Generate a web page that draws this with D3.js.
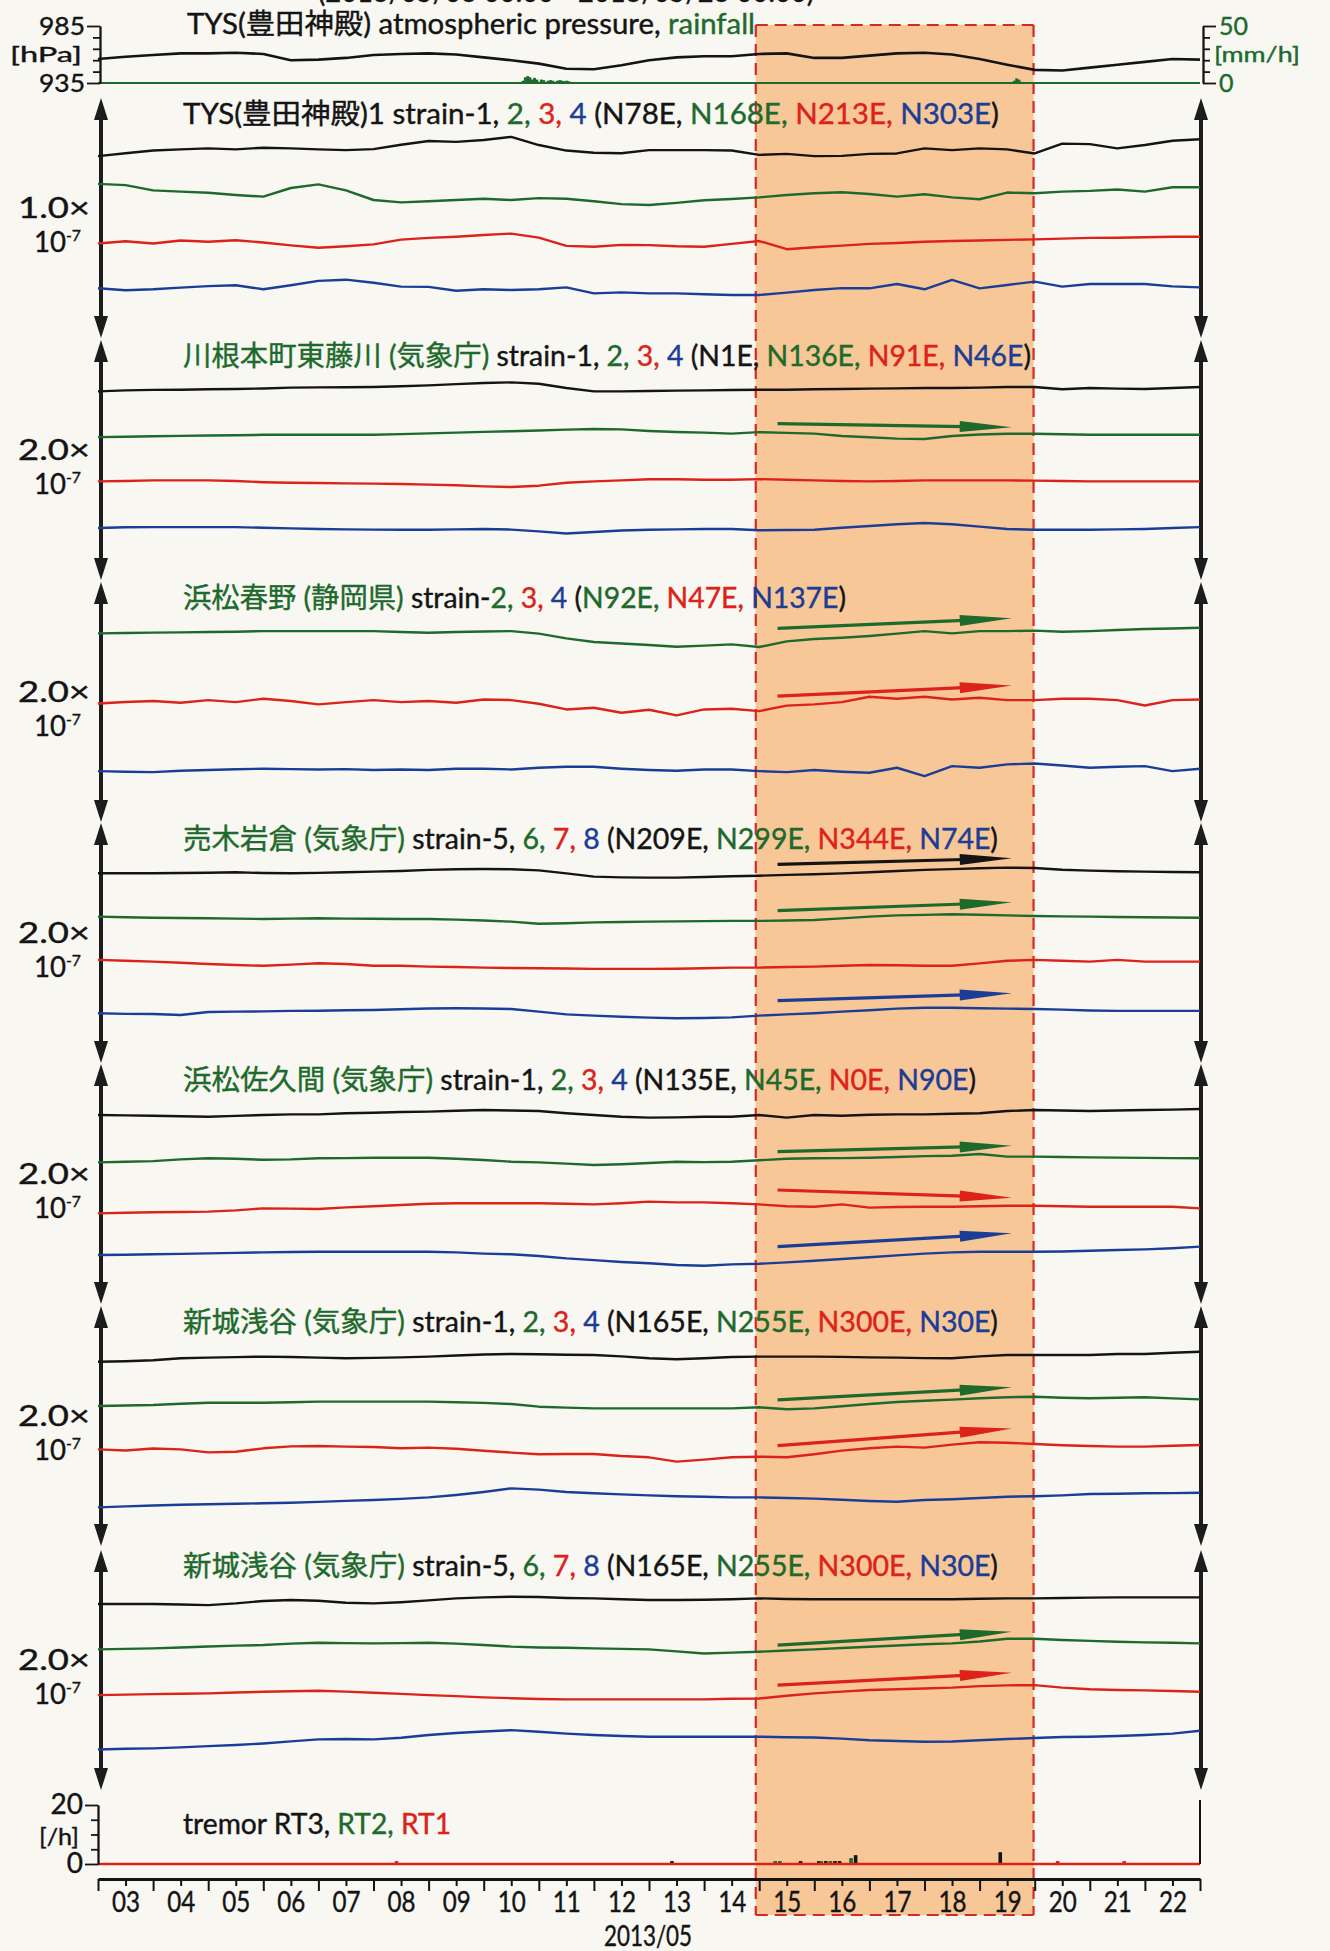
<!DOCTYPE html>
<html><head><meta charset="utf-8">
<script src="https://cdn.jsdelivr.net/npm/d3@7"></script>
<style>
html,body{margin:0;padding:0;background:#f8f7f2;}
svg{display:block;}
text{font-family:Lato,"Noto Sans CJK JP",sans-serif;white-space:pre;}
</style></head><body>
<svg id="chart" width="1330" height="1951"></svg>
<script>
// ---------------- DATA ----------------
const periodText = "(2013/05/03 00:00 - 2013/05/23 00:00)";
const dayLabels = ["03","04","05","06","07","08","09","10","11","12","13","14","15","16","17","18","19","20","21","22"];
const xAxisTitle = "2013/05";
const shadeStart = "2013-05-14T22:30:00Z", shadeEnd = "2013-05-19T23:30:00Z";

// atmospheric pressure [hPa], every 12 h from 05/03 00:00
const pressure = [956,958,959.5,961,961,961.5,960.5,955,955.5,957,959.5,960.5,961,960,957.5,955,952,947.5,947,950.5,955,957.5,958.5,958.5,960.5,961,957,957,959,961,961.5,960,956,951,946.5,946,948.5,951,953.5,956,955.5];
// rainfall [mm/h]: hour since 05/03 00:00, value
const rainHour = [185,186,187,188,189,190,191,192,193,194,195,196,197,198,199,200,201,202,203,204,205,206,399,400,401,402];
const rainMm   = [2,5,6,5,3,4.5,3,1,3,2.5,1,2,2.5,2,1,2,2.5,2,1.5,2,1.5,0.5,2,4,3,1];

// tremor counts [/h]
const rt3Hour = [250,306,314,317,321,323,330,393], rt3Count = [1,1,1,1,1,1,3,4];
const rt2Hour = [295,297,315,319,328],             rt2Count = [1,1,1,1,2];
const rt1Hour = [130,418,447],                     rt1Count = [1,1,1];

// strain traces (x1e-9, plotted with offsets), every 12 h
const tys_s1 = [75.8,77.0,78.1,78.6,79.0,78.6,79.3,79.0,78.6,78.3,78.7,80.5,82.1,81.7,82.5,83.8,80.4,78.1,77.2,77.0,78.3,78.3,78.3,78.1,76.3,76.7,75.8,75.9,76.7,76.9,79.0,78.3,79.0,78.6,76.9,81.0,80.8,79.0,80.4,82.2,82.8];
const tys_s2 = [64.2,63.7,61.5,61.0,60.5,59.6,58.9,62.5,64.0,61.5,57.5,56.5,57.0,57.5,58.0,57.5,58.3,58.0,57.0,55.8,55.4,56.3,57.4,57.9,58.6,59.6,60.3,60.7,60.0,58.9,59.9,58.6,57.8,60.6,60.3,61.0,61.3,61.9,61.0,62.8,62.8];
const tys_s3 = [39.4,40.3,39.4,40.6,40.1,40.7,39.8,38.6,37.6,38.2,39.0,41.0,41.7,42.2,42.9,43.5,41.8,38.4,38.0,38.8,38.7,38.2,38.0,39.2,40.4,37.0,37.8,38.5,39.2,39.6,40.1,40.4,40.6,40.9,41.1,41.4,41.7,41.8,42.0,42.2,42.2];
const tys_s4 = [20.7,19.9,20.3,21.0,21.6,22.0,20.3,22.0,23.8,24.3,23.0,21.4,21.3,19.7,20.3,20.0,20.3,21.1,18.6,19.0,18.6,18.6,18.2,17.9,17.9,18.9,20.0,20.8,20.7,22.5,20.3,24.2,20.7,22.1,23.5,21.4,22.5,22.5,22.5,21.5,21.1];

const kawane_s1 = [157.2,158.0,158.4,158.6,158.9,159.2,159.6,160.3,160.5,160.6,160.8,161.5,162.2,163.2,164.2,164.7,163.5,160.0,157.2,157.2,157.5,157.8,158.0,158.3,158.6,158.6,159.0,159.2,159.5,159.7,160.0,160.0,160.3,160.8,160.8,159.0,160.0,159.5,159.2,160.0,160.8];
const kawane_s2 = [119.1,119.4,119.8,120.1,120.4,120.6,121.0,121.1,121.1,121.1,121.1,121.6,122.2,122.8,123.4,124.0,124.6,125.3,125.8,125.5,124.2,123.3,122.8,122.0,123.2,122.6,122.0,120.0,119.0,117.8,117.5,120.0,121.2,121.9,121.9,121.5,121.1,121.1,121.1,121.1,121.1];
const kawane_s3 = [82.2,82.5,83.0,83.0,83.0,82.5,81.5,81.0,80.8,80.5,80.3,80.0,79.5,79.0,78.0,77.5,78.6,81.0,82.2,83.0,84.0,84.0,83.6,83.6,84.1,83.6,83.0,82.5,82.2,82.5,83.0,83.0,83.0,83.0,82.8,82.5,82.2,82.2,82.2,82.2,82.2];
const kawane_s4 = [43.3,44.0,44.1,44.1,44.1,44.1,43.5,43.0,42.5,42.2,42.0,41.9,41.9,42.2,42.5,42.0,40.5,38.8,40.0,41.2,41.9,42.2,42.5,42.5,41.4,41.7,41.9,43.5,45.0,46.5,47.5,46.5,44.5,42.5,41.9,41.9,41.9,42.2,42.5,43.3,44.1];

const haruno_s2 = [157.2,157.5,157.8,158.0,158.3,158.6,159.1,159.1,159.1,159.1,159.1,158.3,157.7,158.3,158.8,159.1,157.0,153.0,150.0,148.8,147.5,146.0,147.0,148.0,145.8,150.5,152.5,153.5,155.0,157.0,159.1,157.2,159.1,159.1,159.5,158.6,159.1,160.0,160.8,161.2,161.9];
const haruno_s3 = [98.8,100.0,100.8,99.4,101.6,99.9,102.7,100.8,98.0,99.9,101.6,99.9,100.8,99.4,102.1,101.6,98.5,93.8,95.2,91.0,93.5,88.8,93.8,94.4,92.4,97.0,98.0,99.9,104.4,102.7,104.4,102.1,103.5,101.6,101.6,102.7,102.7,101.6,97.1,101.6,102.1];
const haruno_s4 = [42.4,41.9,41.6,42.7,43.3,44.0,44.4,44.1,43.8,44.1,43.3,43.8,43.3,44.4,44.4,43.8,45.2,46.0,46.0,44.4,43.3,42.7,43.8,43.8,42.4,41.6,43.3,41.9,41.0,45.2,38.3,46.6,45.2,48.0,48.8,47.1,45.2,46.0,46.6,42.4,44.4];

const urugi_s5 = [158.1,158.1,158.1,158.3,158.6,158.9,158.3,158.1,158.4,158.9,159.5,160.0,160.9,161.4,161.7,161.5,160.5,158.0,155.3,154.7,154.5,154.5,155.0,155.6,156.1,156.8,157.3,158.0,158.9,160.0,160.9,161.6,162.3,162.8,162.5,161.0,160.3,159.8,159.5,159.2,158.9];
const urugi_s6 = [122.0,121.5,121.1,120.8,120.6,120.3,120.0,120.3,120.6,120.3,120.2,120.0,120.0,119.5,118.8,117.8,116.0,116.5,117.2,117.5,117.8,118.0,118.2,118.4,118.4,118.8,119.2,120.5,122.0,123.0,123.4,123.9,123.5,123.0,122.5,122.2,122.0,121.7,121.5,121.3,121.1];
const urugi_s7 = [85.9,85.2,84.5,83.5,82.5,81.7,81.0,82.0,83.1,82.5,81.1,81.0,80.3,80.0,79.5,79.2,79.0,78.7,78.4,78.4,78.4,78.5,79.0,79.5,79.5,80.0,80.3,81.0,81.7,81.4,81.1,81.1,83.0,85.2,85.9,85.2,84.5,85.9,84.5,84.5,84.5];
const urugi_s8 = [41.4,40.9,40.8,40.0,42.5,42.8,43.0,43.4,43.6,44.0,44.2,44.8,45.4,45.6,45.4,45.0,42.8,40.5,39.5,38.5,37.8,37.3,37.5,38.0,39.5,40.5,41.5,42.8,44.0,45.3,46.0,46.1,45.6,45.3,45.0,44.5,43.8,43.4,43.4,43.4,43.4];

const sakuma_s1 = [157.5,157.2,156.9,156.5,156.1,156.8,157.5,158.0,158.0,158.9,159.4,160.0,160.3,161.0,161.7,161.2,160.8,159.0,157.5,156.1,155.3,155.5,156.1,156.1,157.5,155.3,157.5,156.9,157.7,158.0,158.0,158.5,158.9,160.8,161.7,161.2,160.8,161.2,161.7,162.0,162.5];
const sakuma_s2 = [118.0,118.5,119.1,120.5,121.4,121.0,120.2,120.5,121.4,121.6,121.9,121.9,121.9,121.0,120.0,118.6,118.0,117.0,115.8,116.5,117.5,118.6,118.2,118.6,119.8,121.0,121.4,121.6,121.9,122.5,123.2,123.6,125.0,122.8,122.8,122.5,122.2,122.0,121.8,121.6,121.4];
const sakuma_s3 = [75.5,76.0,76.4,76.7,77.0,78.0,79.7,79.5,79.2,80.5,81.5,82.5,83.5,83.9,83.9,83.9,83.9,83.5,83.0,84.0,85.3,84.7,84.7,83.9,83.0,81.5,81.1,83.0,80.3,80.8,81.1,81.1,81.5,81.9,81.9,81.5,81.1,81.1,81.1,81.1,79.7];
const sakuma_s4 = [40.8,41.1,41.4,41.8,42.2,42.6,43.0,43.3,43.6,43.6,43.6,43.6,43.6,43.0,42.0,41.4,40.0,38.0,36.6,35.0,33.9,32.5,31.9,33.0,33.5,34.7,36.0,37.5,39.0,40.5,42.0,43.0,43.6,43.6,43.6,43.8,44.4,45.0,45.5,46.5,47.8];

const shinshiro_s1 = [153.6,154.0,154.8,156.4,157.0,157.4,157.8,157.5,157.0,156.4,156.8,157.2,157.8,158.8,159.6,160.0,159.8,159.4,159.2,158.0,156.4,155.6,156.5,157.5,157.8,157.8,157.8,157.6,157.2,157.0,156.6,156.4,158.0,159.2,159.2,159.2,159.2,160.0,160.0,161.0,161.9];
const shinshiro_s2 = [116.7,117.1,117.5,118.5,119.4,119.4,119.4,119.8,120.3,120.3,120.3,120.3,120.3,119.8,119.3,118.3,116.1,115.3,114.7,114.7,114.7,114.7,114.7,114.7,115.6,113.9,114.7,116.5,118.3,120.0,121.1,122.0,123.1,124.0,124.4,123.5,123.1,123.5,123.9,123.0,122.2];
const shinshiro_s3 = [80.5,79.6,81.2,80.5,78.0,78.5,81.4,83.0,83.3,82.8,82.5,81.4,82.0,81.0,79.4,77.8,76.5,76.7,76.7,75.0,73.9,70.3,72.0,74.0,74.4,74.0,76.5,79.5,81.4,82.8,82.0,84.5,86.5,86.1,85.0,84.0,83.3,82.8,82.8,83.5,84.2];
const shinshiro_s4 = [32.2,33.0,33.8,34.4,34.8,35.2,35.6,36.1,36.8,37.6,38.3,39.3,40.5,42.5,45.0,48.0,47.0,45.0,43.9,43.0,42.2,41.5,41.0,40.5,40.5,40.0,39.5,38.5,37.5,36.9,38.3,38.9,40.0,41.1,41.5,42.2,43.3,43.6,43.9,44.1,44.4];
const shinshiro_s5 = [155.0,155.0,155.0,154.6,154.1,155.5,157.5,158.3,157.7,156.0,155.5,156.5,158.0,159.7,160.5,161.1,160.8,160.0,159.7,159.0,158.3,158.3,158.6,158.9,159.7,159.2,158.9,158.9,158.9,158.9,158.9,158.9,159.4,159.7,159.7,160.0,160.3,160.5,160.5,160.5,160.5];
const shinshiro_s6 = [117.2,117.6,118.0,118.8,119.6,120.3,120.8,122.0,122.7,122.4,122.2,122.4,122.7,122.0,120.8,119.5,118.8,118.5,118.0,117.6,117.2,115.5,113.8,114.5,115.2,116.2,117.2,118.3,119.4,120.4,121.4,122.2,123.8,126.0,126.0,125.0,124.3,123.6,123.0,122.7,122.2];
const shinshiro_s7 = [79.1,79.5,79.9,80.2,80.5,81.2,81.9,82.3,82.7,82.0,81.1,80.1,79.1,78.2,77.2,76.5,75.8,75.5,75.5,75.5,75.5,75.5,75.5,76.0,76.3,78.5,80.5,82.0,83.3,84.0,84.6,85.3,86.6,87.2,87.4,85.3,84.0,83.3,83.0,82.5,81.9];
const shinshiro_s8 = [33.8,34.4,34.7,35.5,36.6,37.5,38.8,40.5,42.2,42.5,42.2,43.5,45.8,47.5,48.8,49.9,48.6,47.0,45.8,45.0,44.4,44.4,44.4,44.4,44.4,44.0,43.8,42.8,41.5,40.8,40.2,40.4,41.5,42.5,43.3,44.2,44.4,45.0,45.8,47.0,49.4];

// scale of each strain panel (arrow length, x1e-7)
const scaleMag = [1.0, 2.0, 2.0, 2.0, 2.0, 2.0, 2.0];

// titles: [text, colour]
const titlePressure = [["TYS(豊田神殿) atmospheric pressure, ","k"],["rainfall","g"]];
const titleTys = [["TYS(豊田神殿)1 strain-1, ","k"],["2, ","g"],["3, ","r"],["4 ","b"],["(N78E, ","k"],["N168E, ","g"],["N213E, ","r"],["N303E","b"],[")","k"]];
const titleKawane = [["川根本町東藤川 (気象庁) ","g"],["strain-1, ","k"],["2, ","g"],["3, ","r"],["4 ","b"],["(N1E, ","k"],["N136E, ","g"],["N91E, ","r"],["N46E","b"],[")","k"]];
const titleHaruno = [["浜松春野 (静岡県) ","g"],["strain-","k"],["2, ","g"],["3, ","r"],["4 ","b"],["(","k"],["N92E, ","g"],["N47E, ","r"],["N137E","b"],[")","k"]];
const titleUrugi = [["売木岩倉 (気象庁) ","g"],["strain-5, ","k"],["6, ","g"],["7, ","r"],["8 ","b"],["(N209E, ","k"],["N299E, ","g"],["N344E, ","r"],["N74E","b"],[")","k"]];
const titleSakuma = [["浜松佐久間 (気象庁) ","g"],["strain-1, ","k"],["2, ","g"],["3, ","r"],["4 ","b"],["(N135E, ","k"],["N45E, ","g"],["N0E, ","r"],["N90E","b"],[")","k"]];
const titleShinshiroA = [["新城浅谷 (気象庁) ","g"],["strain-1, ","k"],["2, ","g"],["3, ","r"],["4 ","b"],["(N165E, ","k"],["N255E, ","g"],["N300E, ","r"],["N30E","b"],[")","k"]];
const titleShinshiroB = [["新城浅谷 (気象庁) ","g"],["strain-5, ","k"],["6, ","g"],["7, ","r"],["8 ","b"],["(N165E, ","k"],["N255E, ","g"],["N300E, ","r"],["N30E","b"],[")","k"]];
const titleTremor = [["tremor RT3, ","k"],["RT2, ","g"],["RT1","r"]];

// trend arrows: panel index, colour, value at start, value at end (hours 296 -> 398)
const trendHours = [296, 398];
const trendPanel = [1,2,2,3,3,3,4,4,4,5,5,6,6];
const trendColor = ["g","g","r","k","g","b","g","r","b","g","r","g","r"];
const trendFrom  = [130.3,161.3,104.9,165.6,127.0,52.0,127.0,95.0,47.8,121.7,83.6,120.8,87.4];
const trendTo    = [127.2,169.7,113.8,170.6,133.9,58.1,131.9,88.6,58.9,132.2,98.0,131.9,97.7];

// ---------------- LAYOUT / STYLE ----------------
const C = {k:"#141414", g:"#1e6a2c", r:"#dc2219", b:"#1c3d96"};
const panelTops = [98, 340, 582, 823, 1064, 1306, 1550];
const panelH = 240;
const titleW = [816, 848, 663, 815, 793, 815, 815];
const FS = 28;

const panels = [
  {title:titleTys, series:[tys_s1,tys_s2,tys_s3,tys_s4], cols:["k","g","r","b"]},
  {title:titleKawane, series:[kawane_s1,kawane_s2,kawane_s3,kawane_s4], cols:["k","g","r","b"]},
  {title:titleHaruno, series:[haruno_s2,haruno_s3,haruno_s4], cols:["g","r","b"]},
  {title:titleUrugi, series:[urugi_s5,urugi_s6,urugi_s7,urugi_s8], cols:["k","g","r","b"]},
  {title:titleSakuma, series:[sakuma_s1,sakuma_s2,sakuma_s3,sakuma_s4], cols:["k","g","r","b"]},
  {title:titleShinshiroA, series:[shinshiro_s1,shinshiro_s2,shinshiro_s3,shinshiro_s4], cols:["k","g","r","b"]},
  {title:titleShinshiroB, series:[shinshiro_s5,shinshiro_s6,shinshiro_s7,shinshiro_s8], cols:["k","g","r","b"]}
];

// ---------------- DRAW ----------------
const svg = d3.select("#chart");
svg.append("rect").attr("width",1330).attr("height",1951).attr("fill","#f8f7f2");

const t0 = Date.UTC(2013,4,3);
const atHour = h => new Date(t0 + h*3600e3);
const x = d3.scaleUtc().domain([atHour(0), new Date(Date.UTC(2013,4,23))]).range([98,1200]);

// shaded period
const sx0 = x(new Date(shadeStart)), sx1 = x(new Date(shadeEnd));
const shadeTop = 25, shadeBot = 1915;
svg.append("rect").attr("x",sx0).attr("y",shadeTop).attr("width",sx1-sx0).attr("height",shadeBot-shadeTop).attr("fill","#f8c797");
const dash = svg.append("g").attr("stroke","#d42a24").attr("stroke-width",2.2).attr("stroke-dasharray","12,7").attr("fill","none");
dash.append("line").attr("x1",sx0).attr("x2",sx0).attr("y1",shadeTop).attr("y2",shadeBot);
dash.append("line").attr("x1",sx1).attr("x2",sx1).attr("y1",shadeTop).attr("y2",shadeBot);
dash.append("line").attr("x1",sx0).attr("x2",sx1).attr("y1",shadeTop).attr("y2",shadeTop);
dash.append("line").attr("x1",sx0).attr("x2",sx1).attr("y1",shadeBot).attr("y2",shadeBot);

function fit(t, len){ if (len) t.attr("textLength",len).attr("lengthAdjust","spacingAndGlyphs"); return t; }
function label(parent, txt, xp, yp, size, color, anchor, len){
  const t = parent.append("text").attr("x",xp).attr("y",yp).attr("font-size",size)
    .attr("fill",color).attr("stroke",color).attr("stroke-width",0.4).attr("text-anchor",anchor||"start").text(txt);
  return fit(t, len);
}
function richText(parent, segs, xp, yp, size, len){
  const t = parent.append("text").attr("x",xp).attr("y",yp).attr("font-size",size).attr("stroke-width",0.4);
  segs.forEach(s => t.append("tspan").attr("fill",C[s[1]]).attr("stroke",C[s[1]]).text(s[0]));
  return fit(t, len);
}

// header (cut off at the top edge)
label(svg, periodText, 318, 2, FS, C.k, "start", 496);

// ---- pressure / rainfall panel ----
const yP = d3.scaleLinear().domain([935,985]).range([83,26]);
const yR = d3.scaleLinear().domain([0,50]).range([83,26]);
const sampleX = (d,i) => x(atHour(i*12));

svg.append("g").selectAll("rect").data(rainHour.map((h,i)=>({h, v:rainMm[i]}))).join("rect")
  .attr("x", d=>x(atHour(d.h-0.5))).attr("width", d=>x(atHour(d.h+0.5))-x(atHour(d.h-0.5))+0.6)
  .attr("y", d=>yR(d.v)).attr("height", d=>yR(0)-yR(d.v)).attr("fill",C.g);
svg.append("line").attr("x1",x.range()[0]).attr("x2",x.range()[1]).attr("y1",yR(0)).attr("y2",yR(0))
  .attr("stroke",C.g).attr("stroke-width",2.2);
svg.append("path").datum(pressure)
  .attr("d", d3.line().x(sampleX).y(d=>yP(d)))
  .attr("fill","none").attr("stroke",C.k).attr("stroke-width",2.6).attr("stroke-linejoin","round");

function styleAxis(g, color, w, fs){
  g.attr("color",color).attr("font-family","Lato, sans-serif").attr("font-size",fs||FS);
  g.selectAll("line").attr("stroke-width",w);
  g.select(".domain").attr("stroke-width",w);
  g.selectAll("text").attr("stroke","currentColor").attr("stroke-width",0.4);
}
const axL1 = svg.append("g").attr("transform","translate(100,0)")
  .call(d3.axisLeft(yP).tickValues([945,955,965,975]).tickSize(7).tickSizeOuter(0).tickFormat(""));
styleAxis(axL1, C.k, 1.8);
const axL2 = svg.append("g").attr("transform","translate(100,0)")
  .call(d3.axisLeft(yP).tickValues([935,985]).tickSize(13).tickSizeOuter(0).tickPadding(2));
styleAxis(axL2, C.k, 1.8, 25);
axL2.selectAll("text").attr("textLength",46).attr("lengthAdjust","spacingAndGlyphs");
label(svg, "[hPa]", 82, 62, 22, C.k, "end", 72);

const axR1 = svg.append("g").attr("transform","translate(1203,0)")
  .call(d3.axisRight(yR).tickValues([10,20,30,40]).tickSize(7).tickSizeOuter(0).tickFormat(""));
styleAxis(axR1, C.k, 1.8);
const axR2 = svg.append("g").attr("transform","translate(1203,0)")
  .call(d3.axisRight(yR).tickValues([0,50]).tickSize(13).tickSizeOuter(0).tickPadding(3));
styleAxis(axR2, C.k, 1.8, 25);
axR2.selectAll("text").attr("fill",C.g).attr("stroke",C.g);
label(svg, "[mm/h]", 1214, 62, 22, C.g, "start", 86);

richText(svg, titlePressure, 187, 34, FS, 568);

// ---- strain panels ----
function vArrow(g, xp, y1, y2){
  const hw = 7, hl = 22;
  g.append("line").attr("x1",xp).attr("x2",xp).attr("y1",y1+hl-2).attr("y2",y2-hl+2)
    .attr("stroke","#1c1c1c").attr("stroke-width",4);
  g.append("path").attr("d",`M${xp},${y1}L${xp+hw},${y1+hl}L${xp-hw},${y1+hl}Z`).attr("fill","#1c1c1c");
  g.append("path").attr("d",`M${xp},${y2}L${xp+hw},${y2-hl}L${xp-hw},${y2-hl}Z`).attr("fill","#1c1c1c");
}

const yScales = [];
panels.forEach((p, k) => {
  const top = panelTops[k], bot = top + panelH;
  const y = d3.scaleLinear().domain([0, scaleMag[k]*100]).range([bot, top]);
  yScales.push(y);
  const g = svg.append("g");
  vArrow(g, 101, top, bot);
  vArrow(g, 1201, top, bot);
  p.series.forEach((s, j) => {
    g.append("path").datum(s)
      .attr("d", d3.line().x(sampleX).y(d=>y(d)))
      .attr("fill","none").attr("stroke",C[p.cols[j]]).attr("stroke-width",2.4).attr("stroke-linejoin","round");
  });
  richText(g, p.title, 183, top+26, FS, titleW[k]);
  label(g, d3.format(".1f")(scaleMag[k]) + "×", 90, top+120, 29, C.k, "end", 72);
  const e = g.append("text").attr("x",34).attr("y",top+154).attr("font-size",28).attr("fill",C.k)
    .attr("stroke",C.k).attr("stroke-width",0.4);
  e.append("tspan").text("10");
  e.append("tspan").attr("font-size",16).attr("dy",-11).text("-7");
  fit(e, 47);
});

// trend arrows
trendPanel.forEach((pk, i) => {
  const y = yScales[pk];
  const xa = x(atHour(trendHours[0])), xb = x(atHour(trendHours[1]));
  const ya = y(trendFrom[i]), yb = y(trendTo[i]);
  const dx = xb-xa, dy = yb-ya, L = Math.hypot(dx,dy), ux = dx/L, uy = dy/L;
  const hl = 52, hw = 5.5;
  const bx = xb-ux*hl, by = yb-uy*hl;
  const col = C[trendColor[i]];
  svg.append("line").attr("x1",xa).attr("y1",ya).attr("x2",bx+ux*4).attr("y2",by+uy*4)
    .attr("stroke",col).attr("stroke-width",3.2);
  svg.append("path").attr("d",`M${xb},${yb}L${bx-uy*hw},${by+ux*hw}L${bx+uy*hw},${by-ux*hw}Z`).attr("fill",col);
});

// ---- tremor panel ----
const yT = d3.scaleLinear().domain([0,20]).range([1864,1805]);
const bars = [].concat(
  rt3Hour.map((h,i)=>({h, v:rt3Count[i], c:"k"})),
  rt2Hour.map((h,i)=>({h, v:rt2Count[i], c:"g"})),
  rt1Hour.map((h,i)=>({h, v:rt1Count[i], c:"r"})));
svg.append("g").selectAll("rect").data(bars).join("rect")
  .attr("x", d=>x(atHour(d.h))-1.8).attr("width",3.6)
  .attr("y", d=>yT(d.v)).attr("height", d=>yT(0)-yT(d.v)).attr("fill", d=>C[d.c]);
svg.append("line").attr("x1",x.range()[0]).attr("x2",x.range()[1]).attr("y1",yT(0)).attr("y2",yT(0))
  .attr("stroke",C.r).attr("stroke-width",2.6);
const axT1 = svg.append("g").attr("transform","translate(98,0)")
  .call(d3.axisLeft(yT).tickValues([5,10,15]).tickSize(7).tickSizeOuter(0).tickFormat(""));
styleAxis(axT1, C.k, 1.8);
const axT2 = svg.append("g").attr("transform","translate(98,0)")
  .call(d3.axisLeft(yT).tickValues([0,20]).tickSize(13).tickSizeOuter(0).tickPadding(2));
styleAxis(axT2, C.k, 1.8);
label(svg, "[/h]", 79, 1845, 24, C.k, "end", 40);
svg.append("line").attr("x1",1200).attr("x2",1200).attr("y1",1800).attr("y2",yT(0)).attr("stroke",C.k).attr("stroke-width",2);
richText(svg, titleTremor, 183, 1834, FS, 268);

// ---- time axis ----
const gxd = svg.append("g").attr("transform","translate(0,1879)")
  .call(d3.axisBottom(x).ticks(d3.utcDay.every(1)).tickSize(12).tickSizeOuter(0).tickFormat(""));
styleAxis(gxd, C.k, 2);
gxd.select(".domain").attr("stroke-width",3.2);
const noon = dayLabels.map(d => new Date(Date.UTC(2013,4,+d,12)));
const gxn = svg.append("g").attr("transform","translate(0,1879)")
  .call(d3.axisBottom(x).tickValues(noon).tickSize(7).tickSizeOuter(0).tickPadding(6)
    .tickFormat((d,i)=>dayLabels[i]));
styleAxis(gxn, C.k, 2);
gxn.attr("font-size",28);
gxn.selectAll("text").attr("textLength",28).attr("lengthAdjust","spacingAndGlyphs");
gxn.select(".domain").remove();
label(svg, xAxisTitle, 648, 1945.5, 28, C.k, "middle", 88);
</script>
</body></html>
